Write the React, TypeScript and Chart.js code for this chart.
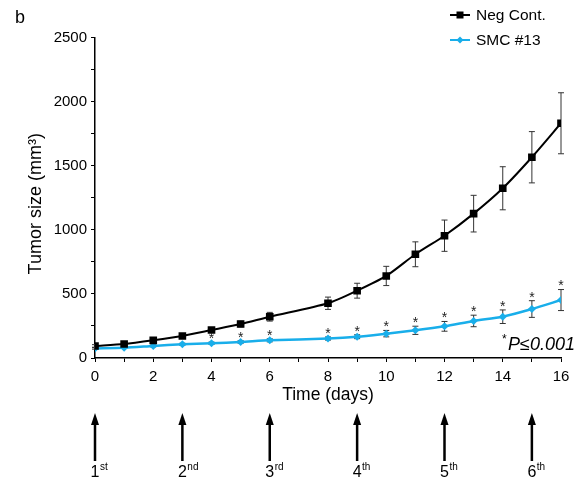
import React, { useEffect, useRef } from 'react';
import Chart from 'chart.js/auto';

const days = [0, 1, 2, 3, 4, 5, 6, 8, 9, 10, 11, 12, 13, 14, 15, 16];
const negCont = [94, 109, 138, 172, 218, 265, 322, 427, 525, 640, 809, 954, 1126, 1324, 1566, 1831];
const negErr = [10, 10, 12, 15, 18, 22, 34, 48, 58, 75, 97, 122, 143, 168, 200, 238];
const smc13 = [75, 80, 94, 107, 115, 125, 138, 152, 166, 190, 216, 247, 289, 322, 382, 452];
const smcErr = [6, 6, 7, 8, 9, 10, 12, 12, 15, 25, 32, 38, 45, 53, 65, 82];
const starDays = [4, 5, 6, 8, 9, 10, 11, 12, 13, 14, 15, 16];
const doseDays = [0, 3, 6, 9, 12, 15];
const doseNum = ['1', '2', '3', '4', '5', '6'];
const doseSup = ['st', 'nd', 'rd', 'th', 'th', 'th'];
const seriesNames = ['Neg Cont.', 'SMC #13'];

const FONT = 'Arial, "Liberation Sans", sans-serif';
const BLUE = '#19aeea';
const BLACK = '#000000';

const annot = {
  id: 'annot',
  beforeDatasetsDraw(chart: any) {
    const ctx = chart.ctx;
    const xs = chart.scales.x;
    const ys = chart.scales.y;
    ctx.save();
    ctx.strokeStyle = '#333';
    ctx.lineWidth = 1;
    const bars = (vals: number[], errs: number[]) => {
      vals.forEach((v, i) => {
        const x = xs.getPixelForValue(days[i]);
        const t = ys.getPixelForValue(v + errs[i]);
        const b = ys.getPixelForValue(v - errs[i]);
        ctx.beginPath();
        ctx.moveTo(x, t); ctx.lineTo(x, b);
        ctx.moveTo(x - 3, t); ctx.lineTo(x + 3, t);
        ctx.moveTo(x - 3, b); ctx.lineTo(x + 3, b);
        ctx.stroke();
      });
    };
    bars(negCont, negErr);
    bars(smc13, smcErr);
    ctx.restore();
  },
  afterDraw(chart: any) {
    const ctx = chart.ctx;
    const xs = chart.scales.x;
    const ys = chart.scales.y;
    const ca = chart.chartArea;
    ctx.save();
    // asterisks
    ctx.fillStyle = '#222';
    ctx.font = `14px ${FONT}`;
    ctx.textAlign = 'center';
    ctx.textBaseline = 'middle';
    starDays.forEach((d) => {
      const i = days.indexOf(d);
      const x = xs.getPixelForValue(d);
      const y = ys.getPixelForValue(smc13[i] + smcErr[i]) - 6;
      ctx.fillText('*', x, y + 3);
    });
    // panel letter
    ctx.fillStyle = '#000';
    ctx.textAlign = 'left';
    ctx.textBaseline = 'alphabetic';
    ctx.font = `18px ${FONT}`;
    ctx.fillText('b', 15, 23);
    // legend
    const legend = [
      { name: seriesNames[0], color: BLACK, style: 'rect', y: 15 },
      { name: seriesNames[1], color: BLUE, style: 'diamond', y: 40 },
    ];
    legend.forEach((l) => {
      ctx.strokeStyle = l.color;
      ctx.fillStyle = l.color;
      ctx.lineWidth = 2;
      ctx.beginPath();
      ctx.moveTo(450, l.y); ctx.lineTo(470, l.y);
      ctx.stroke();
      if (l.style === 'rect') {
        ctx.fillRect(456.5, l.y - 3.5, 7, 7);
      } else {
        ctx.beginPath();
        ctx.moveTo(460, l.y - 3.5); ctx.lineTo(463.5, l.y); ctx.lineTo(460, l.y + 3.5); ctx.lineTo(456.5, l.y);
        ctx.closePath(); ctx.fill();
      }
      ctx.fillStyle = '#000';
      ctx.font = `15.5px ${FONT}`;
      ctx.textBaseline = 'middle';
      ctx.fillText(l.name, 476, l.y + 1);
    });
    // x title
    ctx.textAlign = 'center';
    ctx.textBaseline = 'middle';
    ctx.font = `17.5px ${FONT}`;
    ctx.fillText('Time (days)', (ca.left + ca.right) / 2, 395);
    // y title
    ctx.save();
    ctx.translate(36, (ca.top + ca.bottom) / 2 + 6);
    ctx.rotate(-Math.PI / 2);
    ctx.font = `18px ${FONT}`;
    ctx.fillText('Tumor size (mm\u00B3)', 0, 0);
    ctx.restore();
    // P value
    ctx.textAlign = 'left';
    ctx.textBaseline = 'alphabetic';
    ctx.font = `12px ${FONT}`;
    ctx.fillText('*', 502, 343);
    ctx.font = `italic 18px ${FONT}`;
    ctx.fillText('P\u22640.001', 508, 350);
    // arrows
    doseDays.forEach((d, i) => {
      const x = xs.getPixelForValue(d);
      ctx.fillStyle = '#000';
      ctx.fillRect(x - 1.25, 423, 2.5, 38);
      ctx.beginPath();
      ctx.moveTo(x, 413); ctx.lineTo(x + 4, 425); ctx.lineTo(x - 4, 425);
      ctx.closePath(); ctx.fill();
      ctx.font = `16px ${FONT}`;
      ctx.textAlign = 'center';
      ctx.fillText(doseNum[i], x, 477);
      const w = ctx.measureText(doseNum[i]).width;
      ctx.font = `10px ${FONT}`;
      ctx.textAlign = 'left';
      ctx.fillText(doseSup[i], x + w / 2 + 0.5, 470);
    });
    ctx.restore();
  },
};

export default function App() {
  const ref = useRef<HTMLCanvasElement | null>(null);
  useEffect(() => {
    if (!ref.current) return;
    const chart = new Chart(ref.current, {
      type: 'line',
      data: {
        datasets: [
          {
            label: seriesNames[0],
            data: days.map((d, i) => ({ x: d, y: negCont[i] })),
            borderColor: BLACK,
            backgroundColor: BLACK,
            borderWidth: 2,
            pointStyle: 'rect',
            pointRadius: 5.4,
            pointBorderWidth: 0,
            tension: 0.25,
          },
          {
            label: seriesNames[1],
            data: days.map((d, i) => ({ x: d, y: smc13[i] })),
            borderColor: BLUE,
            backgroundColor: BLUE,
            borderWidth: 2.5,
            pointStyle: 'rectRot',
            pointRadius: 4,
            pointBorderWidth: 0,
            tension: 0.25,
          },
        ],
      },
      options: {
        animation: false,
        responsive: false,
        devicePixelRatio: 1,
        layout: { padding: { left: 0, right: 22, top: 37.5, bottom: 0 } },
        plugins: { legend: { display: false }, tooltip: { enabled: false } },
        scales: {
          x: {
            type: 'linear',
            min: 0,
            max: 16,
            afterFit: (s: any) => { s.height = 123; },
            border: { display: true, color: '#000', width: 1.5 },
            grid: { display: true, drawOnChartArea: false, tickLength: 4, color: '#000', lineWidth: 1 },
            ticks: {
              stepSize: 1,
              autoSkip: false,
              maxRotation: 0,
              padding: 6,
              color: '#000',
              font: { family: FONT, size: 15 },
              callback: (v: any) => (Number(v) % 2 === 0 ? String(v) : ''),
            },
          },
          y: {
            min: 0,
            max: 2500,
            afterFit: (s: any) => { s.width = 95; },
            border: { display: true, color: '#000', width: 1.5 },
            grid: { display: true, drawOnChartArea: false, tickLength: 4, color: '#000', lineWidth: 1 },
            ticks: {
              stepSize: 250,
              autoSkip: false,
              padding: 4,
              color: '#000',
              font: { family: FONT, size: 15 },
              callback: (v: any) => (Number(v) % 500 === 0 ? String(v) : ''),
            },
          },
        },
      },
      plugins: [annot],
    });
    return () => chart.destroy();
  }, []);
  return (
    <div style={{ position: 'fixed', left: 0, top: 0, width: 583, height: 481, background: '#fff' }}>
      <canvas ref={ref} width={583} height={481} style={{ width: 583, height: 481, display: 'block' }} />
    </div>
  );
}
